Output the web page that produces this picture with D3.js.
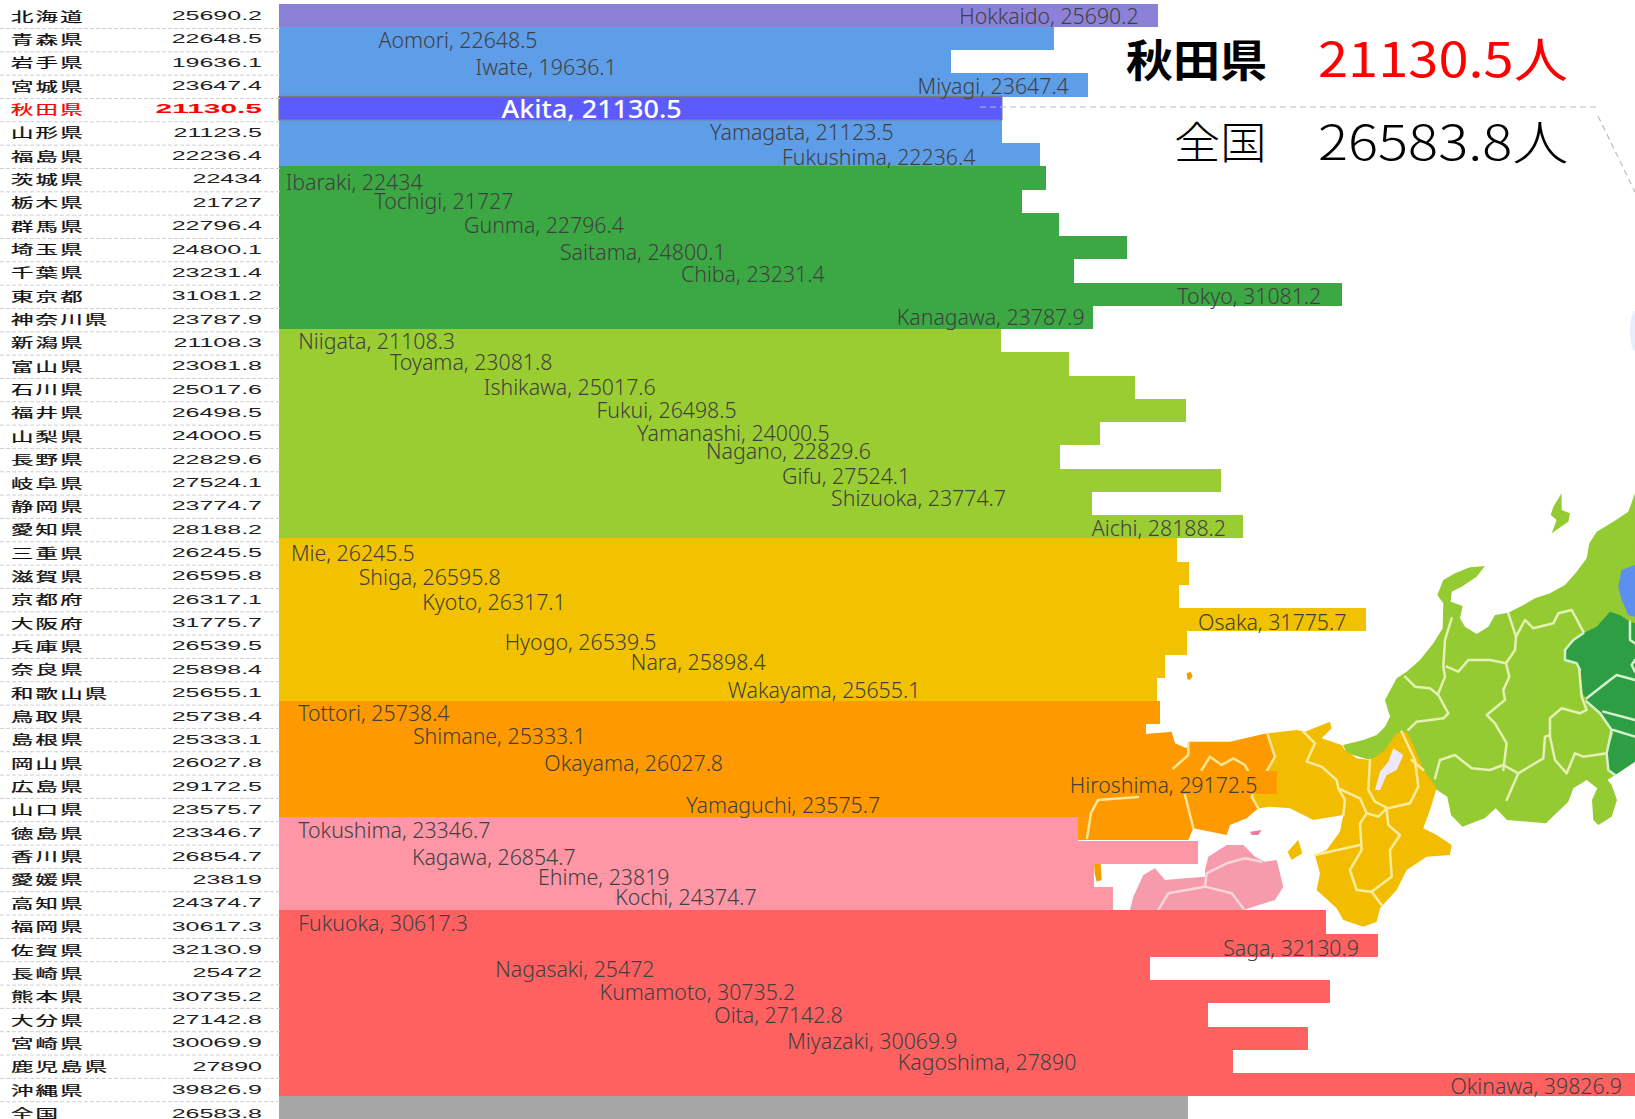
<!DOCTYPE html>
<html lang="ja"><head><meta charset="utf-8">
<style>html,body{margin:0;padding:0;background:#fff;overflow:hidden}svg{display:block}</style>
<script src="https://cdn.jsdelivr.net/npm/d3@7"></script></head><body>
<svg id="c" width="1635" height="1119"></svg>
<script>
// ---------- data ----------
const prefJa = ["北海道","青森県","岩手県","宮城県","秋田県","山形県","福島県","茨城県","栃木県","群馬県","埼玉県","千葉県","東京都","神奈川県","新潟県","富山県","石川県","福井県","山梨県","長野県","岐阜県","静岡県","愛知県","三重県","滋賀県","京都府","大阪府","兵庫県","奈良県","和歌山県","鳥取県","島根県","岡山県","広島県","山口県","徳島県","香川県","愛媛県","高知県","福岡県","佐賀県","長崎県","熊本県","大分県","宮崎県","鹿児島県","沖縄県","全国"];
const prefEn = ["Hokkaido","Aomori","Iwate","Miyagi","Akita","Yamagata","Fukushima","Ibaraki","Tochigi","Gunma","Saitama","Chiba","Tokyo","Kanagawa","Niigata","Toyama","Ishikawa","Fukui","Yamanashi","Nagano","Gifu","Shizuoka","Aichi","Mie","Shiga","Kyoto","Osaka","Hyogo","Nara","Wakayama","Tottori","Shimane","Okayama","Hiroshima","Yamaguchi","Tokushima","Kagawa","Ehime","Kochi","Fukuoka","Saga","Nagasaki","Kumamoto","Oita","Miyazaki","Kagoshima","Okinawa",""];
const values = [25690.2,22648.5,19636.1,23647.4,21130.5,21123.5,22236.4,22434,21727,22796.4,24800.1,23231.4,31081.2,23787.9,21108.3,23081.8,25017.6,26498.5,24000.5,22829.6,27524.1,23774.7,28188.2,26245.5,26595.8,26317.1,31775.7,26539.5,25898.4,25655.1,25738.4,25333.1,26027.8,29172.5,23575.7,23346.7,26854.7,23819,24374.7,30617.3,32130.9,25472,30735.2,27142.8,30069.9,27890,39826.9,26583.8];
const regionSizes = [1,6,7,9,7,5,4,8,1];
const regionColors = ["#8B82D8","#5E9DE8","#3CA844","#9ACD32","#F2C200","#FF9900","#FF96A5","#FF6161","#A6A6A6"];
// where each data label begins, read on the value axis
const labelStart = [19887,2909,5744,18667,6506,12602,14705,197,2787,5409,8213,11749,26257,18058,562,3245,5988,9280,10468,12480,14705,16138,23758,349,2330,4189,26867,6597,10285,13120,562,3915,7756,23117,11901,562,3885,7573,9828,562,27598,6323,9371,12724,14857,18088,34243];
const labelNudge = [0.5,1,5,1,1,0,2,4,-1,0,4,3,1,-1,0,-2,-1,-1,-1,-6,-5,-6,1,3,3,5,2,-1,-5,0,0,0,3,2,-1,1,4,1,-2,1,2,0,0,0,2,0,1];
const selected = 4;

// backdrop map outlines (trace of the picture behind the bars)
const chubu = [[765,40],[745,95],[700,125],[650,155],[628,190],[620,235],[590,275],[555,315],[510,340],[465,355],[430,375],[385,398],[345,405],[325,440],[290,462],[255,440],[240,415],[248,378],[212,365],[215,335],[245,320],[290,290],[315,258],[270,262],[225,280],[190,300],[172,345],[190,370],[188,445],[160,490],[120,540],[80,575],[50,595],[15,660],[30,710],[15,740],[-10,765],[-50,780],[-111,795],[-99,820],[-30,840],[60,900],[163,925],[202,950],[213,1005],[247,1040],[314,1015],[347,985],[381,1020],[498,1030],[565,965],[580,925],[620,900],[652,925],[636,960],[640,1020],[655,1035],[695,1010],[711,960],[695,915],[683,900],[705,885],[765,845]];
const sado = [[545,40],[520,80],[512,105],[530,120],[515,160],[565,125],[570,100],[545,90]];
const kanto = [[555,510],[580,480],[610,460],[650,440],[690,395],[720,405],[750,425],[765,430],[765,845],[705,885],[685,870],[680,820],[700,760],[665,700],[625,665],[600,630],[600,570],[590,550],[555,540]];
const tohoku = [[715,320],[725,270],[765,255],[765,410],[745,405],[725,360]];
const chubuLines = [
 [[385,400],[408,470],[405,510],[378,550],[330,540],[265,540],[235,575],[200,560]],
 [[215,415],[195,480],[190,560],[195,590],[175,640]],
 [[75,590],[105,620],[150,625],[175,645],[205,700],[190,715],[110,725],[85,750]],
 [[378,550],[388,590],[370,630],[375,660],[320,705],[345,730],[380,790],[370,870]],
 [[408,470],[435,420],[460,445],[520,430],[535,400],[575,390],[610,455]],
 [[620,690],[600,700],[545,685],[510,715],[510,770],[525,840],[560,880],[585,820],[610,830],[680,820]],
 [[165,895],[180,840],[225,825],[275,865],[330,870],[370,855],[415,880],[380,960]],
 [[415,880],[490,835],[495,770],[510,765]],
 [[598,570],[605,650],[620,690]]
];
const kantoLines = [
 [[620,655],[690,600],[710,585],[765,600]],
 [[670,695],[765,720]],
 [[620,665],[660,700],[695,750],[680,820],[685,870],[705,885]],
 [[700,750],[765,770]],
 [[750,425],[750,480],[765,490]],
 [[765,540],[755,555],[765,575]],
 [[555,510],[580,480],[610,460]],[[555,510],[555,540],[590,550],[600,570]]
];
const kinki = [[410,100],[500,90],[525,95],[600,65],[605,85],[575,115],[635,135],[645,150],[680,175],[720,180],[760,155],[800,100],[830,95],[850,135],[880,210],[910,250],[920,265],[900,330],[880,385],[920,405],[965,435],[960,465],[890,470],[830,510],[800,570],[750,625],[740,665],[700,680],[640,660],[620,625],[560,570],[570,520],[555,465],[590,450],[630,395],[640,345],[550,360],[480,325],[420,320],[385,325],[365,290],[415,205],[435,170]];
const biwa = [[790,145],[820,165],[800,210],[770,225],[750,270],[735,270],[750,215],[775,185]];
const awaji = [[505,420],[517,460],[485,480],[473,455]];
const kinkiLines = [
 [[520,95],[555,130],[530,185],[575,200],[620,240],[625,265],[645,300],[640,345]],
 [[625,265],[690,295],[710,340],[745,350],[770,325]],
 [[720,180],[715,270],[735,305],[775,325],[840,310],[865,260],[855,180],[815,95]],
 [[710,340],[690,370],[695,450],[660,510],[680,570],[725,575],[785,530],[780,450],[810,405],[775,375],[770,330]],
 [[555,465],[690,435]],
 [[725,575],[755,615]],
 [[880,210],[845,180]]
];
const chugoku = [[-160,120],[125,95],[135,130],[170,145],[175,125],[300,125],[410,100],[435,180],[365,290],[385,325],[350,355],[300,375],[290,405],[190,385],[175,420],[-160,420]];
const oki = [[170,-80],[182,-85],[188,-70],[178,-60],[172,-62]];
const tsushimaBit = [[-108,490],[-88,490],[-85,540],[-100,545],[-106,520]];
const chugokuLines = [
 [[412,100],[435,170],[415,205],[365,290],[385,325]],
 [[175,130],[175,165],[130,205]],
 [[215,210],[240,170],[275,195],[310,175],[345,195],[355,215]],
 [[165,285],[190,385]],
 [[24,291],[-96,300],[-117,339],[-129,414]]
];
const shikoku = [[225,510],[235,470],[290,435],[340,435],[375,470],[405,485],[440,480],[460,560],[435,600],[340,630],[0,630],[10,590],[40,525],[75,505],[105,540],[165,535],[225,530]];
const shodo = [[360,395],[395,390],[385,405],[365,405]];
const shikokuLines = [
 [[85,630],[115,580],[225,560],[305,580],[340,625]],
 [[225,560],[230,520],[290,490],[345,475],[395,485]]
];

// ---------- scales ----------
const width = 1635, height = 1119;
const svg = d3.select("#c");
const rowColor = d3.merge(regionSizes.map((n,k)=>d3.range(n).map(()=>regionColors[k])));
const x = d3.scaleLinear().domain([0,40000]).range([279,1647.4]);
const y = d3.scaleBand().domain(d3.range(values.length)).range([3.5,3.5+23.25*values.length]);
const rowY = d3.scaleLinear().domain([0,47]).range([15.5,1113]);
const sepY = d3.scaleLinear().domain([0,46]).range([28.5,1101.7]);
const cjk = "'Noto Sans CJK JP','Noto Sans',sans-serif";

// ---------- map backdrop ----------
const defs = svg.append("defs");
defs.append("filter").attr("id","soft").attr("x","-5%").attr("y","-5%").attr("width","110%").attr("height","110%")
  .append("feGaussianBlur").attr("stdDeviation",1.6);
const line = d3.line(), closed = p => line(p)+"Z";
const mapE = svg.append("g").attr("transform","translate(1380,480) scale(0.3333)").attr("filter","url(#soft)");
const mapW = svg.append("g").attr("transform","translate(1130,700) scale(0.3333)").attr("filter","url(#soft)");
const poly = (g,p,f)=>g.append("path").attr("d",closed(p)).attr("fill",f);
const strokes = (g,ls,c)=>g.selectAll(null).data(ls).join("path").attr("d",line).attr("fill","none").attr("stroke",c).attr("stroke-width",7.5).attr("stroke-linejoin","round").attr("stroke-linecap","round");
poly(mapE,chubu,"#95CB31"); poly(mapE,sado,"#95CB31");
poly(mapE,kanto,"#2F9E45"); poly(mapE,tohoku,"#5B8FEE");
strokes(mapE,chubuLines,"#E4F0B4"); strokes(mapE,kantoLines,"#D4F0CC");
poly(mapW,shikoku,"#F59BAC"); poly(mapW,shodo,"#F07BA0");
strokes(mapW,shikokuLines,"#FBD5DC");
poly(mapW,chugoku,"#FF9900"); poly(mapW,oki,"#F0A000"); poly(mapW,tsushimaBit,"#F0A000");
poly(mapW,kinki,"#F2BD00"); poly(mapW,biwa,"#EEE8FF"); poly(mapW,awaji,"#F2BD00");
strokes(mapW,chugokuLines,"#FFE596"); strokes(mapW,kinkiLines,"#FBEC9C");
svg.append("ellipse").attr("cx",1635).attr("cy",331).attr("rx",5).attr("ry",20).attr("fill","#E6EEFA");

// ---------- bars ----------
svg.selectAll("rect.bar").data(values).join("rect").attr("class","bar")
  .attr("x",x(0)).attr("y",(d,i)=>y(i))
  .attr("width",d=>x(d)-x(0)).attr("height",y.bandwidth())
  .attr("shape-rendering","crispEdges")
  .attr("fill",(d,i)=>i===selected?"#5B5BFF":rowColor[i]);
svg.append("rect").attr("x",x(0)).attr("y",y(selected)).attr("width",x(values[selected])-x(0)).attr("height",y.bandwidth())
  .attr("fill","none").attr("stroke","#7A7A7A").attr("stroke-width",1.3);

// ---------- data labels ----------
svg.selectAll("text.lab").data(labelStart).join("text").attr("class","lab")
  .attr("transform",(d,i)=>`translate(${x(d)},${y(i)+y.bandwidth()/2+labelNudge[i]+8.5}) scale(${i===selected?1.08:1.015},1)`)
  .attr("font-family","'Noto Sans',sans-serif")
  .attr("font-size",(d,i)=>i===selected?25:21)
  .attr("font-weight",(d,i)=>i===selected?500:300)
  .attr("fill",(d,i)=>i===selected?"#fff":"#404040")
  .text((d,i)=>`${prefEn[i]}, ${values[i]}`);

// ---------- left table ----------
const sep = d3.range(47);
svg.selectAll("line.sep").data(sep).join("line").attr("class","sep")
  .attr("x1",0).attr("x2",281).attr("y1",i=>sepY(i)).attr("y2",i=>sepY(i))
  .attr("stroke","#CFCFCF").attr("stroke-width",1).attr("stroke-dasharray","4 2");
svg.selectAll("text.name").data(prefJa).join("text").attr("class","name")
  .attr("transform",(d,i)=>`translate(11,${rowY(i)+5}) scale(1.72,0.98)`)
  .attr("font-family",cjk).attr("font-size",13).attr("letter-spacing",1.3)
  .attr("fill",(d,i)=>i===selected?"#FF0000":"#111")
  .attr("stroke",(d,i)=>i===selected?"#FF0000":"#111").attr("stroke-width",0.25)
  .text(d=>d);
svg.selectAll("text.val").data(values).join("text").attr("class","val")
  .attr("transform",(d,i)=>`translate(262,${rowY(i)+4.5}) scale(${i===selected?2.3:2.0},1)`)
  .attr("text-anchor","end").attr("font-family","'Liberation Sans',sans-serif")
  .attr("font-size",(d,i)=>i===selected?13:12.5).attr("font-weight",(d,i)=>i===selected?700:400)
  .attr("fill",(d,i)=>i===selected?"#FF0000":"#222")
  .text(d=>String(d));

// ---------- callout ----------
svg.append("line").attr("x1",980).attr("x2",1596).attr("y1",107).attr("y2",107)
  .attr("stroke","#BDBDBD").attr("stroke-width",1.2).attr("stroke-dasharray","6 4");
svg.append("line").attr("x1",1598).attr("x2",1635).attr("y1",116).attr("y2",192)
  .attr("stroke","#BDBDBD").attr("stroke-width",1.2).attr("stroke-dasharray","6 4");
const big = (t,px,py,fs,sx,fw,col)=>svg.append("text").attr("transform",`translate(${px},${py}) scale(${sx},1)`)
  .attr("font-family",cjk).attr("font-size",fs).attr("font-weight",fw).attr("fill",col).text(t);
big(prefJa[selected],1126,77,44,1.07,700,"#000");
big(`${values[selected]}人`,1318,77,48,1.13,400,"#FF0000");
big(prefJa[47],1174,159,44,1.05,300,"#000");
big(`${values[47]}人`,1318,160,48,1.17,300,"#000");
</script></body></html>
